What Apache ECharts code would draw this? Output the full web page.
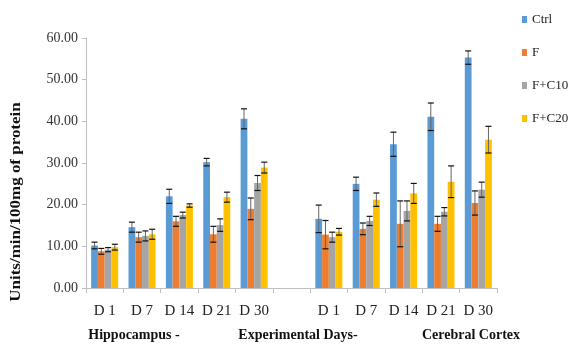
<!DOCTYPE html>
<html>
<head>
<meta charset="utf-8">
<script src="https://cdn.jsdelivr.net/npm/echarts@6/dist/echarts.min.js"></script>
<style>html,body{margin:0;padding:0;background:#fff;}#c{width:571px;height:345px;}</style>
</head>
<body>
<div id="c"></div>
<script>
var categories = ['D 1', 'D 7', 'D 14', 'D 21', 'D 30', '', 'D 1', 'D 7', 'D 14', 'D 21', 'D 30'];
var seriesNames = ['Ctrl', 'F', 'F+C10', 'F+C20'];
var ctrl = [10.2, 14.6, 22.0, 30.2, 40.6, '-', 16.6, 25.0, 34.5, 41.1, 55.3];
var ctrlErr = [0.8, 1.2, 1.7, 0.9, 2.4, '-', 3.3, 1.6, 2.9, 3.3, 1.6];
var f = [8.8, 12.2, 16.0, 12.9, 19.0, '-', 12.8, 14.2, 15.4, 15.4, 20.4];
var fErr = [0.7, 1.2, 1.2, 1.9, 2.6, '-', 3.4, 1.4, 5.5, 1.8, 2.9];
var fc10 = [9.2, 12.5, 17.5, 15.1, 25.2, '-', 12.2, 16.1, 18.5, 18.3, 23.6];
var fc10Err = [0.5, 1.2, 0.7, 1.5, 1.8, '-', 1.2, 1.1, 2.4, 1.0, 1.8];
var fc20 = [9.8, 12.9, 19.8, 21.8, 28.9, '-', 13.5, 21.2, 22.7, 25.5, 35.6];
var fc20Err = [0.7, 1.2, 0.4, 1.2, 1.3, '-', 0.8, 1.6, 2.4, 3.8, 3.2];
var yTicks = [0, 10, 20, 30, 40, 50, 60];
var groupLabels = ['Hippocampus -', 'Experimental Days-', 'Cerebral Cortex'];
var yTitle = 'Units/min/100mg of protein';

var colors = ['#5B9BD5', '#ED7D31', '#A5A5A5', '#FFC000'];
var values = [ctrl, f, fc10, fc20];
var errs = [ctrlErr, fErr, fc10Err, fc20Err];
var catGap = 0.276;
var serif = "'Liberation Serif', 'Times New Roman', serif";

var series = [];
values.forEach(function (v, i) {
  series.push({
    name: seriesNames[i], type: 'bar', data: v, barGap: '0%', barCategoryGap: (catGap * 100) + '%',
    itemStyle: { color: colors[i] }, z: 2
  });
});
values.forEach(function (v, i) {
  var d = [];
  v.forEach(function (val, k) {
    if (val !== '-') d.push([k, val, errs[i][k]]);
  });
  series.push({
    type: 'custom', name: seriesNames[i] + ' err', z: 5, silent: true,
    data: d,
    encode: { x: 0, y: 1 },
    renderItem: function (params, api) {
      var k = api.value(0), val = api.value(1), e = api.value(2);
      var band = api.size([1, 0])[0];
      var bw = band * (1 - catGap) / 4;
      var c = api.coord([k, val]);
      var x = c[0] + (i - 1.5) * bw;
      var top = api.coord([k, val + e])[1];
      var bot = api.coord([k, val - e])[1];
      var hw = 3;
      return {
        type: 'group', children: [
          { type: 'line', shape: { x1: x, y1: top, x2: x, y2: bot }, style: { stroke: '#666', lineWidth: 1 } },
          { type: 'line', shape: { x1: x - hw, y1: top, x2: x + hw, y2: top }, style: { stroke: '#111', lineWidth: 1.2 } },
          { type: 'line', shape: { x1: x - hw, y1: bot, x2: x + hw, y2: bot }, style: { stroke: '#111', lineWidth: 1.2 } }
        ]
      };
    }
  });
});

var chart = echarts.init(document.getElementById('c'));
chart.setOption({
  animation: false,
  backgroundColor: '#fff',
  grid: { left: 86, right: 74, top: 38, bottom: 57, containLabel: false },
  legend: {
    data: seriesNames, orient: 'vertical', left: 517, top: 8, itemWidth: 5, itemHeight: 7, itemGap: 20,
    icon: 'rect', textStyle: { fontFamily: serif, fontSize: 13, color: '#222' }
  },
  xAxis: {
    type: 'category', data: categories,
    axisLine: { lineStyle: { color: '#BFBFBF' } },
    axisTick: { show: true, length: 5, lineStyle: { color: '#BFBFBF' } },
    axisLabel: { fontFamily: serif, fontSize: 15, color: '#222', margin: 16, interval: 0 }
  },
  yAxis: {
    type: 'value', min: yTicks[0], max: yTicks[yTicks.length - 1], interval: yTicks[1] - yTicks[0],
    axisLine: { show: true, lineStyle: { color: '#BFBFBF' } },
    axisTick: { show: true, length: 4, lineStyle: { color: '#BFBFBF' } },
    splitLine: { show: false },
    axisLabel: { fontFamily: serif, fontSize: 14, color: '#333', margin: 8, formatter: function (v) { return v.toFixed(2); } }
  },
  graphic: [
    { type: 'text', x: 16, y: 202, rotation: Math.PI / 2, scaleX: 1.13, style: { text: yTitle, font: 'bold 15px ' + serif, fill: '#111', textAlign: 'center', textVerticalAlign: 'middle' } },
    { type: 'text', x: 134, y: 335, style: { text: groupLabels[0], font: 'bold 14px ' + serif, fill: '#111', textAlign: 'center', textVerticalAlign: 'middle' } },
    { type: 'text', x: 298, y: 335, style: { text: groupLabels[1], font: 'bold 14px ' + serif, fill: '#111', textAlign: 'center', textVerticalAlign: 'middle' } },
    { type: 'text', x: 471, y: 335, style: { text: groupLabels[2], font: 'bold 14px ' + serif, fill: '#111', textAlign: 'center', textVerticalAlign: 'middle' } }
  ],
  series: series
});
</script>
</body>
</html>
